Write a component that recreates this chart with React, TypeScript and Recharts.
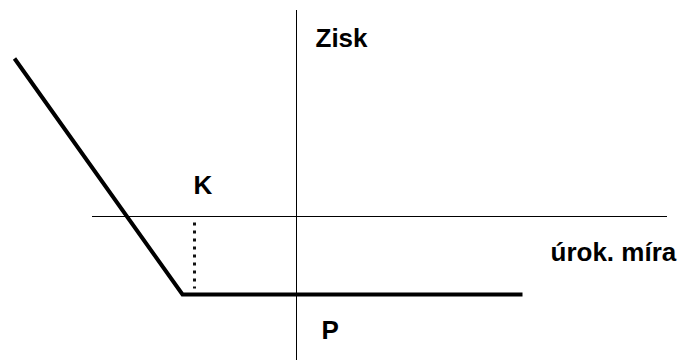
import React from 'react';
import { LineChart, Line, XAxis, YAxis, ReferenceLine, ReferenceDot } from 'recharts';

// chart units: 1 unit = 10 px, origin where the two axes cross
const payoffX = [-28.2, -11.4, 22.6];
const payoffY = [15.8, -7.8, -7.8];

const strikeX = -10.2;
const strikeY = [-0.6, -7.2];

const axisXRange = [-20.45, 37.05];
const axisYRange = [-14.35, 20.65];

const labelText = ['Zisk', 'K', 'úrok. míra', 'P'];
const labelX = [1.9, -10.3, 25.4, 2.5];
const labelY = [17.0, 2.3, -4.4, -12.2];

const payoff = payoffX.map((x, i) => ({ x, y: payoffY[i] }));
const strike = strikeY.map((y) => ({ x: strikeX, y }));

const FONT = '"Liberation Sans", Arial, sans-serif';

export default function App() {
  return (
    <div style={{ position: 'absolute', left: 0, top: 0, background: '#fff' }}>
      <LineChart width={687} height={360} margin={{ top: 0, right: 0, bottom: 0, left: 0 }}>
        <XAxis dataKey="x" type="number" domain={[-29.65, 39.05]} hide allowDataOverflow />
        <YAxis type="number" domain={[-14.35, 21.65]} hide allowDataOverflow />

        {/* axes drawn as plain segments */}
        <ReferenceLine
          segment={[{ x: axisXRange[0], y: 0 }, { x: axisXRange[1], y: 0 }]}
          stroke="#000"
          strokeWidth={1}
        />
        <ReferenceLine
          segment={[{ x: 0, y: axisYRange[0] }, { x: 0, y: axisYRange[1] }]}
          stroke="#000"
          strokeWidth={1}
        />

        <Line
          data={strike}
          dataKey="y"
          stroke="#111"
          strokeWidth={3}
          strokeDasharray="3 5"
          dot={false}
          activeDot={false}
          isAnimationActive={false}
        />
        <Line
          data={payoff}
          dataKey="y"
          stroke="#000"
          strokeWidth={4}
          dot={false}
          activeDot={false}
          isAnimationActive={false}
        />

        {labelText.map((t, i) => (
          <ReferenceDot
            key={t}
            x={labelX[i]}
            y={labelY[i]}
            r={0}
            shape={(p: any) => (
              <text x={p.cx} y={p.cy} fontFamily={FONT} fontWeight="bold" fontSize={26} fill="#000">
                {t}
              </text>
            )}
          />
        ))}
      </LineChart>
    </div>
  );
}
